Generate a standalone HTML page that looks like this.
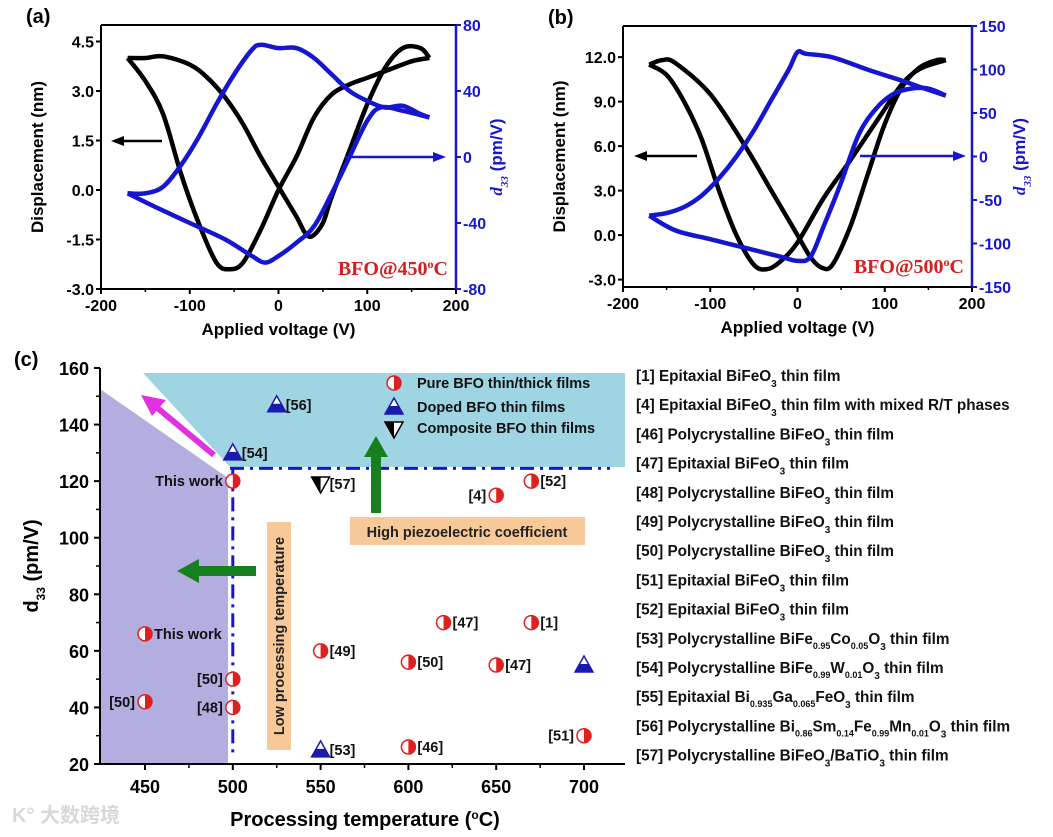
<!DOCTYPE html>
<html><head><meta charset="utf-8"><style>
body{margin:0;background:#fff;width:1053px;height:832px;overflow:hidden}
svg{font-family:"Liberation Sans",Arial,sans-serif;font-weight:bold}
</style></head><body>
<svg id="s" width="1053" height="832" viewBox="0 0 1053 832"></svg>
<script>
// ---------- Panel (a) data ----------
const aV1=[-170,-150,-130,-100,-80,-60,-40,-20,0,20,30,38,50,60,80,100,120,140,160,170];
const aD1=[4.0,4.0,4.05,3.8,3.4,2.8,2.0,1.0,0.1,-0.8,-1.3,-1.4,-1.0,-0.2,1.2,2.6,3.7,4.3,4.3,4.0];
const aV2=[170,150,120,100,80,60,40,20,0,-20,-40,-55,-70,-90,-110,-130,-150,-170];
const aD2=[4.0,3.9,3.6,3.4,3.2,2.9,2.2,1.0,0.0,-1.2,-2.2,-2.4,-2.2,-1.0,0.5,2.3,3.3,4.0];
const aBV1=[-170,-150,-130,-110,-90,-70,-50,-30,-20,0,20,40,60,80,100,120,140,160,170];
const aB1=[-22,-22,-18,-5,12,32,50,65,68,66,66,60,50,40,34,30,31,26,24];
const aBV2=[170,140,115,100,80,60,40,20,0,-15,-30,-60,-100,-140,-170];
const aB2=[24,28,30,22,0,-22,-42,-52,-60,-64,-60,-50,-40,-30,-22];
// ---------- Panel (b) data ----------
const bV1=[-170,-155,-140,-100,-60,-30,0,15,28,40,60,80,100,120,140,160,170];
const bD1=[11.5,11.8,11.6,9.5,6.0,3.0,0.0,-1.5,-2.2,-2.0,0.5,4.0,7.5,10.0,11.3,11.8,11.8];
const bV2=[170,140,120,100,60,30,0,-20,-35,-50,-70,-90,-110,-130,-150,-170];
const bD2=[11.8,11.2,10.2,8.5,5.0,2.5,-0.5,-1.8,-2.3,-2.0,0.0,3.0,6.5,9.0,10.8,11.5];
const bBV1=[-170,-150,-130,-110,-90,-70,-50,-30,-10,0,10,40,80,120,140,170];
const bB1=[-68,-65,-58,-45,-25,0,30,65,100,120,118,114,100,87,80,70];
const bBV2=[170,150,130,110,90,70,50,30,15,0,-20,-60,-100,-140,-170];
const bB2=[70,78,78,72,55,25,-30,-80,-115,-120,-115,-105,-95,-85,-68];
// ---------- Panel (c) data ----------
const cTemps=[500,550,650,670,525,500,450,620,670,550,600,650,700,500,500,450,550,600,700];
const cD33=[120,119,115,120,147,130,66,70,70,60,56,55,55,50,40,42,25,26,30];
const cType=["c","v","c","c","t","t","c","c","c","c","c","c","t","c","c","c","t","c","c"];
const cLabels=["This work","[57]","[4]","[52]","[56]","[54]","This work","[47]","[1]","[49]","[50]","[47]","","[50]","[48]","[50]","[53]","[46]","[51]"];
const cLabelSide=["L","R","L","R","R","R","R","R","R","R","R","R","R","L","L","L","R","R","L"];
const xTicksC=[450,500,550,600,650,700];
const yTicksC=[20,40,60,80,100,120,140,160];
const refs=["[1] Epitaxial BiFeO<tspan baseline-shift='sub' font-size='10'>3</tspan> thin film",
"[4] Epitaxial BiFeO<tspan baseline-shift='sub' font-size='10'>3</tspan> thin film with mixed R/T phases",
"[46] Polycrystalline BiFeO<tspan baseline-shift='sub' font-size='10'>3</tspan> thin film",
"[47] Epitaxial BiFeO<tspan baseline-shift='sub' font-size='10'>3</tspan> thin film",
"[48] Polycrystalline BiFeO<tspan baseline-shift='sub' font-size='10'>3</tspan> thin film",
"[49] Polycrystalline BiFeO<tspan baseline-shift='sub' font-size='10'>3</tspan> thin film",
"[50] Polycrystalline BiFeO<tspan baseline-shift='sub' font-size='10'>3</tspan> thin film",
"[51] Epitaxial BiFeO<tspan baseline-shift='sub' font-size='10'>3</tspan> thin film",
"[52] Epitaxial BiFeO<tspan baseline-shift='sub' font-size='10'>3</tspan> thin film",
"[53] Polycrystalline BiFe<tspan baseline-shift='sub' font-size='9'>0.95</tspan>Co<tspan baseline-shift='sub' font-size='9'>0.05</tspan>O<tspan baseline-shift='sub' font-size='10'>3</tspan> thin film",
"[54] Polycrystalline BiFe<tspan baseline-shift='sub' font-size='9'>0.99</tspan>W<tspan baseline-shift='sub' font-size='9'>0.01</tspan>O<tspan baseline-shift='sub' font-size='10'>3</tspan> thin film",
"[55] Epitaxial Bi<tspan baseline-shift='sub' font-size='9'>0.935</tspan>Ga<tspan baseline-shift='sub' font-size='9'>0.065</tspan>FeO<tspan baseline-shift='sub' font-size='10'>3</tspan> thin film",
"[56] Polycrystalline Bi<tspan baseline-shift='sub' font-size='9'>0.86</tspan>Sm<tspan baseline-shift='sub' font-size='9'>0.14</tspan>Fe<tspan baseline-shift='sub' font-size='9'>0.99</tspan>Mn<tspan baseline-shift='sub' font-size='9'>0.01</tspan>O<tspan baseline-shift='sub' font-size='10'>3</tspan> thin film",
"[57] Polycrystalline BiFeO<tspan baseline-shift='sub' font-size='10'>3</tspan>/BaTiO<tspan baseline-shift='sub' font-size='10'>3</tspan> thin film"];

const S=document.getElementById('s');
let H='';
function lin(d0,d1,p0,p1){return v=>p0+(v-d0)/(d1-d0)*(p1-p0);}
function path(xs,ys,fx,fy){
  const P=xs.map((v,i)=>[fx(v),fy(ys[i])]);
  let d='M'+P[0][0].toFixed(1)+','+P[0][1].toFixed(1);
  for(let i=0;i<P.length-1;i++){
    const p0=P[i-1]||P[i],p1=P[i],p2=P[i+1],p3=P[i+2]||P[i+1];
    const c1=[p1[0]+(p2[0]-p0[0])/6,p1[1]+(p2[1]-p0[1])/6];
    const c2=[p2[0]-(p3[0]-p1[0])/6,p2[1]-(p3[1]-p1[1])/6];
    d+=`C${c1[0].toFixed(1)},${c1[1].toFixed(1)} ${c2[0].toFixed(1)},${c2[1].toFixed(1)} ${p2[0].toFixed(1)},${p2[1].toFixed(1)}`;
  }
  return d;
}
function txt(x,y,t,sz,anchor,fill,extra,name){return `<text x="${x}" y="${y}" font-size="${sz}" text-anchor="${anchor}" fill="${fill}" ${extra||''}>${t}</text>`;}
const BLUE='#1616d0';

function panel(o){
  const fx=lin(-200,200,o.x0,o.x1), fy=lin(o.lmin,o.lmax,o.y1,o.y0), fr=lin(o.rmin,o.rmax,o.y1,o.y0);
  H+=`<g>`;
  H+=`<path d="${path(o.v1,o.d1,fx,fy)}" fill="none" stroke="#000" stroke-width="4.5" stroke-linejoin="round"/>`;
  H+=`<path d="${path(o.v2,o.d2,fx,fy)}" fill="none" stroke="#000" stroke-width="4.5" stroke-linejoin="round"/>`;
  H+=`<path d="${path(o.bv1,o.b1,fx,fr)}" fill="none" stroke="${BLUE}" stroke-width="4.5" stroke-linejoin="round"/>`;
  H+=`<path d="${path(o.bv2,o.b2,fx,fr)}" fill="none" stroke="${BLUE}" stroke-width="4.5" stroke-linejoin="round"/>`;
  H+=`<path d="M${o.x0},${o.y0}L${o.x1},${o.y0}M${o.x0},${o.y0}L${o.x0},${o.y1}L${o.x1},${o.y1}" stroke="#000" stroke-width="2" fill="none"/>`;
  H+=`<line x1="${o.x1}" y1="${o.y0}" x2="${o.x1}" y2="${o.y1}" stroke="${BLUE}" stroke-width="2.5"/>`;
  [-200,-100,0,100,200].forEach(v=>{H+=`<line x1="${fx(v)}" y1="${o.y1}" x2="${fx(v)}" y2="${o.y1+5}" stroke="#000" stroke-width="2"/>`;
    H+=txt(fx(v),o.y1+22,v,16,'middle','#000','','x-tick-label');});
  [-150,-50,50,150].forEach(v=>{H+=`<line x1="${fx(v)}" y1="${o.y1}" x2="${fx(v)}" y2="${o.y1+3}" stroke="#000" stroke-width="1.5"/>`;});
  o.lt.forEach(v=>{H+=`<line x1="${o.x0-5}" y1="${fy(v)}" x2="${o.x0}" y2="${fy(v)}" stroke="#000" stroke-width="2"/>`;
    H+=txt(o.x0-7,fy(v)+6,v.toFixed(1),16,'end','#000','','y-tick-label');});
  o.rt.forEach(v=>{H+=`<line x1="${o.x1}" y1="${fr(v)}" x2="${o.x1+5}" y2="${fr(v)}" stroke="${BLUE}" stroke-width="2"/>`;
    H+=txt(o.x1+7,fr(v)+6,v,16,'start',BLUE,'','right-tick-label');});
  H+=txt((o.x0+o.x1)/2,o.y1+46,'Applied voltage (V)',17,'middle','#000','','x-axis-title');
  H+=txt(o.x0-58,(o.y0+o.y1)/2,'Displacement (nm)',17,'middle','#000',`transform="rotate(-90 ${o.x0-58} ${(o.y0+o.y1)/2})"`,'left-axis-title');
  const rx=o.x1+o.rOff, ry=(o.y0+o.y1)/2;
  H+=`<text x="${rx}" y="${ry}" font-size="17" text-anchor="middle" fill="${BLUE}" transform="rotate(-90 ${rx} ${ry})"><tspan font-family="Liberation Serif" font-style="italic">d</tspan><tspan font-family="Liberation Serif" font-style="italic" font-size="11" baseline-shift="sub">33</tspan> (pm/V)</text>`;
  H+=`<text x="${o.x1-8}" y="${o.y1-14}" font-size="20" text-anchor="end" fill="#d42020" font-family="Liberation Serif">${o.label}<tspan baseline-shift="super" font-size="12">o</tspan>C</text>`;
  H+=txt(o.x0-75,o.y0-2,o.tag,20,'start','#000','','panel-tag');
  H+=`<line x1="${o.al[1]}" y1="${o.al[2]}" x2="${o.al[0]+10}" y2="${o.al[2]}" stroke="#000" stroke-width="2.5"/><polygon points="${o.al[0]},${o.al[2]} ${o.al[0]+13},${o.al[2]-5} ${o.al[0]+13},${o.al[2]+5}" fill="#000"/>`;
  H+=`<line x1="${o.ar[0]}" y1="${o.ar[2]}" x2="${o.ar[1]-10}" y2="${o.ar[2]}" stroke="${BLUE}" stroke-width="2.5"/><polygon points="${o.ar[1]},${o.ar[2]} ${o.ar[1]-13},${o.ar[2]-5} ${o.ar[1]-13},${o.ar[2]+5}" fill="${BLUE}"/>`;
  H+='</g>';
}
panel({id:'panel-a',tag:'(a)',x0:101,x1:456,y0:25,y1:289,lmin:-3,lmax:5.0,rmin:-80,rmax:80,lt:[-3,-1.5,0,1.5,3,4.5],rt:[-80,-40,0,40,80],
 v1:aV1,d1:aD1,v2:aV2,d2:aD2,bv1:aBV1,b1:aB1,bv2:aBV2,b2:aB2,label:'BFO@450',rOff:46,al:[111,162,141],ar:[345,446,157]});
panel({id:'panel-b',tag:'(b)',x0:623,x1:972,y0:26,y1:287,lmin:-3.5,lmax:14.1,rmin:-150,rmax:150,lt:[-3,0,3,6,9,12],rt:[-150,-100,-50,0,50,100,150],
 v1:bV1,d1:bD1,v2:bV2,d2:bD2,bv1:bBV1,b1:bB1,bv2:bBV2,b2:bB2,label:'BFO@500',rOff:53,al:[634,697,156],ar:[860,966,156]});

// ---------- Panel (c) ----------
const cx=lin(450,700,145,584), cy=lin(20,160,764,368);
H+=`<g>`;
H+=`<polygon points="143,373 625,373 625,467 230,467" fill="#9fd4e3"/>`;
H+=`<polygon points="100,389 228,478 228,764 100,764" fill="#b4aee0"/>`;
H+=`<line x1="230" y1="${cy(124.5)}" x2="610" y2="${cy(124.5)}" stroke="${BLUE}" stroke-width="3" stroke-dasharray="14,6,3,6"/>`;
H+=`<line x1="${cx(500)}" y1="${cy(124.5)}" x2="${cx(500)}" y2="756" stroke="${BLUE}" stroke-width="3" stroke-dasharray="14,6,3,6"/>`;
H+=`<path d="M100,368L100,764L625,764" stroke="#000" stroke-width="2" fill="none"/>`;
xTicksC.forEach(v=>{H+=`<line x1="${cx(v)}" y1="764" x2="${cx(v)}" y2="770" stroke="#000" stroke-width="2"/>`;
  H+=txt(cx(v),793,v,18,'middle','#000','','c-x-tick-label');});
[475,525,575,625,675].forEach(v=>{H+=`<line x1="${cx(v)}" y1="764" x2="${cx(v)}" y2="768" stroke="#000" stroke-width="1.5"/>`;});
yTicksC.forEach(v=>{H+=`<line x1="94" y1="${cy(v)}" x2="100" y2="${cy(v)}" stroke="#000" stroke-width="2"/>`;
  H+=txt(89,cy(v)+7,v,18,'end','#000','','c-y-tick-label');});
[30,50,70,90,110,130,150].forEach(v=>{H+=`<line x1="96" y1="${cy(v)}" x2="100" y2="${cy(v)}" stroke="#000" stroke-width="1.5"/>`;});
H+=`<text x="365" y="826" font-size="20" text-anchor="middle">Processing temperature (<tspan baseline-shift="super" font-size="12">o</tspan>C)</text>`;
H+=`<text x="38" y="566" font-size="20" text-anchor="middle" transform="rotate(-90 38 566)">d<tspan baseline-shift="sub" font-size="12">33</tspan> (pm/V)</text>`;
H+=txt(14,366,'(c)',20,'start','#000','','panel-tag');
H+=`<line x1="214" y1="455" x2="155" y2="406" stroke="#e030e0" stroke-width="6"/><polygon points="141,395 166,400 152,416" fill="#e030e0"/>`;
H+=`<rect x="371" y="455" width="10" height="58" fill="#16801e"/><polygon points="376,436 364,457 388,457" fill="#16801e"/>`;
H+=`<rect x="198" y="566" width="58" height="10" fill="#16801e"/><polygon points="177,571 199,559 199,583" fill="#16801e"/>`;
H+=`<rect x="350" y="517" width="235" height="28" fill="#f7c999"/>`;
H+=txt(467,537,'High piezoelectric coefficient',14.5,'middle','#222','','high-d33-label');
H+=`<rect x="267" y="522" width="24" height="228" fill="#f7c999"/>`;
H+=txt(284,636,'Low processing temperature',14.5,'middle','#222','transform="rotate(-90 284 636)"','low-temp-label');
function marker(t,x,y,name){
  let m='';
  if(t==='c'){m=`<g><circle cx="${x}" cy="${y}" r="7" fill="#fff" stroke="#e02020" stroke-width="1.5"/><path d="M${x},${y-7}A7,7 0 0 1 ${x},${y+7}Z" fill="#e02020"/></g>`;}
  else if(t==='t'){m=`<g><polygon points="${x},${y-9} ${x-9},${y+7} ${x+9},${y+7}" fill="#fff" stroke="#1a1ab0" stroke-width="1.5"/><polygon points="${x-4.5},${y-1} ${x+4.5},${y-1} ${x+9},${y+7} ${x-9},${y+7}" fill="#1a1ab0"/></g>`;}
  else {m=`<g><polygon points="${x},${y+9} ${x-9},${y-7} ${x+9},${y-7}" fill="#fff" stroke="#000" stroke-width="1.5"/><polygon points="${x},${y+9} ${x-9},${y-7} ${x},${y-7}" fill="#000"/></g>`;}
  return m;
}
cTemps.forEach((t,i)=>{
  const x=cx(t),y=cy(cD33[i]);
  H+=marker(cType[i],x,y,'data-point-'+i);
  if(cLabels[i]){
    if(cLabelSide[i]==='R') H+=txt(x+9,y+5,cLabels[i],14.5,'start','#111','','point-label');
    else H+=txt(x-10,y+5,cLabels[i],14.5,'end','#111','','point-label');
  }
});
H+=marker('c',394,383,'legend-marker-pure');H+=txt(417,388,'Pure BFO thin/thick films',14.5,'start','#111','','legend-entry-pure');
H+=marker('t',394,407,'legend-marker-doped');H+=txt(417,412,'Doped BFO thin films',14.5,'start','#111','','legend-entry-doped');
H+=marker('v',394,429,'legend-marker-composite');H+=txt(417,433,'Composite BFO thin films',14.5,'start','#111','','legend-entry-composite');
H+='</g>';
H+=`<g>`;
refs.forEach((r,i)=>{H+=`<text x="636" y="${381+i*29.2}" font-size="15.3" fill="#111">${r}</text>`;});
H+='</g>';
H+=`<text x="12" y="822" font-size="20" fill="#d8d8d8" font-family="Liberation Sans, Noto Sans CJK SC, sans-serif">K° 大数跨境</text>`;
S.innerHTML=H;
</script>
</body></html>
